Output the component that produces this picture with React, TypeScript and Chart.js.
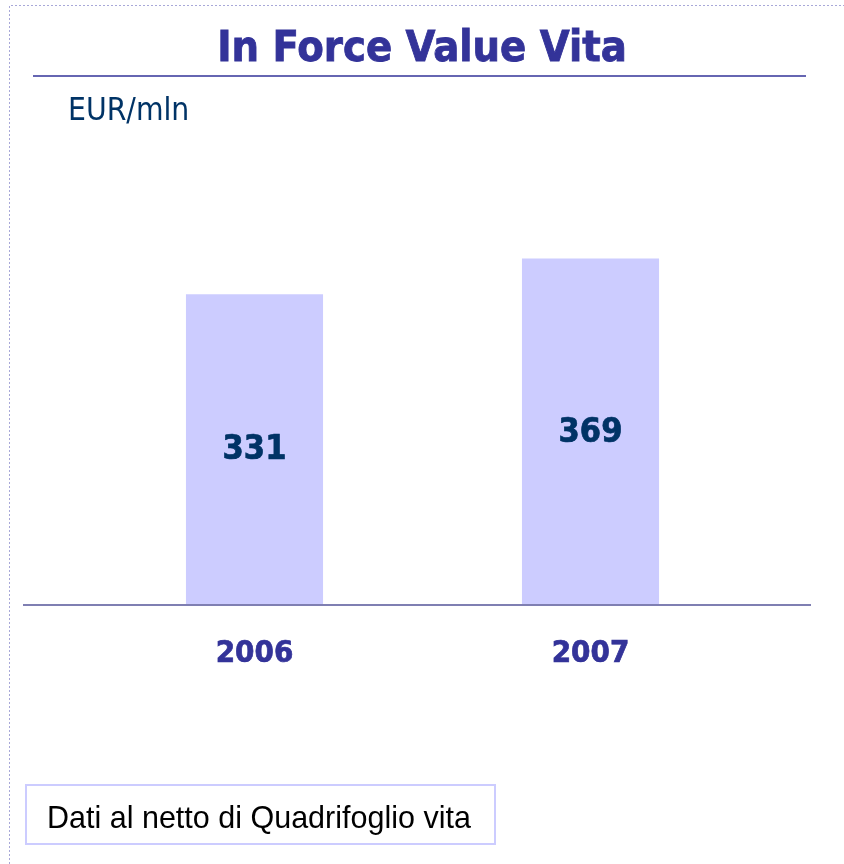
import React, { useEffect, useRef } from "react";
import { Chart, registerables } from "chart.js";

Chart.register(...registerables);

const categories = ["2006", "2007"];
const values = [331, 369];
const titleText = "In Force Value Vita";
const unitText = "EUR/mln";
const noteText = "Dati al netto di Quadrifoglio vita";

const COND = "'DejaVu Sans Condensed', 'DejaVu Sans', sans-serif";

const decor = {
  id: "decor",
  beforeDraw(chart: any) {
    const ctx = chart.ctx;
    ctx.save();
    // dotted frame
    ctx.strokeStyle = "#a8a8d8";
    ctx.lineWidth = 1;
    ctx.setLineDash([2, 2]);
    ctx.beginPath();
    ctx.moveTo(9.5, 864);
    ctx.lineTo(9.5, 5.5);
    ctx.lineTo(844, 5.5);
    ctx.stroke();
    ctx.setLineDash([]);
    // title
    ctx.fillStyle = "#333399";
    ctx.font = `bold 43px ${COND}`;
    ctx.textAlign = "center";
    ctx.textBaseline = "alphabetic";
    ctx.fillText(titleText, 422, 61);
    ctx.strokeStyle = "#333399";
    ctx.lineWidth = 0.8;
    ctx.strokeText(titleText, 422, 61);
    // underline
    ctx.lineWidth = 1.5;
    ctx.beginPath();
    ctx.moveTo(33, 76);
    ctx.lineTo(806, 76);
    ctx.stroke();
    // unit
    ctx.fillStyle = "#003366";
    ctx.font = `31.5px ${COND}`;
    ctx.textAlign = "left";
    ctx.fillText(unitText, 68, 120);
    // note box
    ctx.strokeStyle = "#ccccff";
    ctx.lineWidth = 2;
    ctx.strokeRect(26, 785, 469, 59);
    ctx.fillStyle = "#000000";
    ctx.font = "30.5px 'Liberation Sans', Arial, sans-serif";
    ctx.textAlign = "left";
    ctx.fillText(noteText, 47, 828);
    ctx.restore();
  },
  afterDatasetsDraw(chart: any) {
    const ctx = chart.ctx;
    const meta = chart.getDatasetMeta(0);
    const xs = chart.scales.x;
    ctx.save();
    // axis line
    ctx.strokeStyle = "#7f7fb2";
    ctx.lineWidth = 2;
    ctx.beginPath();
    ctx.moveTo(23, chart.chartArea.bottom);
    ctx.lineTo(811, chart.chartArea.bottom);
    ctx.stroke();
    // value labels
    ctx.fillStyle = "#003366";
    ctx.strokeStyle = "#003366";
    ctx.lineWidth = 0.7;
    ctx.font = `bold 34px ${COND}`;
    ctx.textAlign = "center";
    ctx.textBaseline = "middle";
    meta.data.forEach((bar: any, i: number) => {
      const cy = (bar.y + bar.base) / 2;
      ctx.fillText(String(values[i]), bar.x, cy + 1);
      ctx.strokeText(String(values[i]), bar.x, cy + 1);
    });
    // category labels
    ctx.fillStyle = "#333399";
    ctx.strokeStyle = "#333399";
    ctx.font = `bold 31px ${COND}`;
    ctx.textBaseline = "alphabetic";
    categories.forEach((c, i) => {
      ctx.fillText(c, xs.getPixelForValue(i), 662);
      ctx.strokeText(c, xs.getPixelForValue(i), 662);
    });
    ctx.restore();
  },
};

export default function App() {
  const ref = useRef<HTMLCanvasElement>(null);
  useEffect(() => {
    const chart = new Chart(ref.current!, {
      type: "bar",
      data: {
        labels: categories,
        datasets: [
          {
            data: values,
            backgroundColor: "#ccccff",
            borderWidth: 0,
            categoryPercentage: 1,
            barPercentage: 0.408,
          },
        ],
      },
      options: {
        animation: false,
        responsive: false,
        maintainAspectRatio: false,
        layout: { padding: { left: 86.5, right: 85.5, top: 229.5, bottom: 259 } },
        plugins: { legend: { display: false }, tooltip: { enabled: false }, title: { display: false } },
        scales: {
          x: { display: false, offset: true },
          y: { display: false, min: 0, max: 400 },
        },
      },
      plugins: [decor],
    });
    return () => chart.destroy();
  }, []);
  return (
    <canvas
      ref={ref}
      width={844}
      height={864}
      style={{ position: "fixed", left: 0, top: 0, width: 844, height: 864, background: "#ffffff" }}
    />
  );
}
